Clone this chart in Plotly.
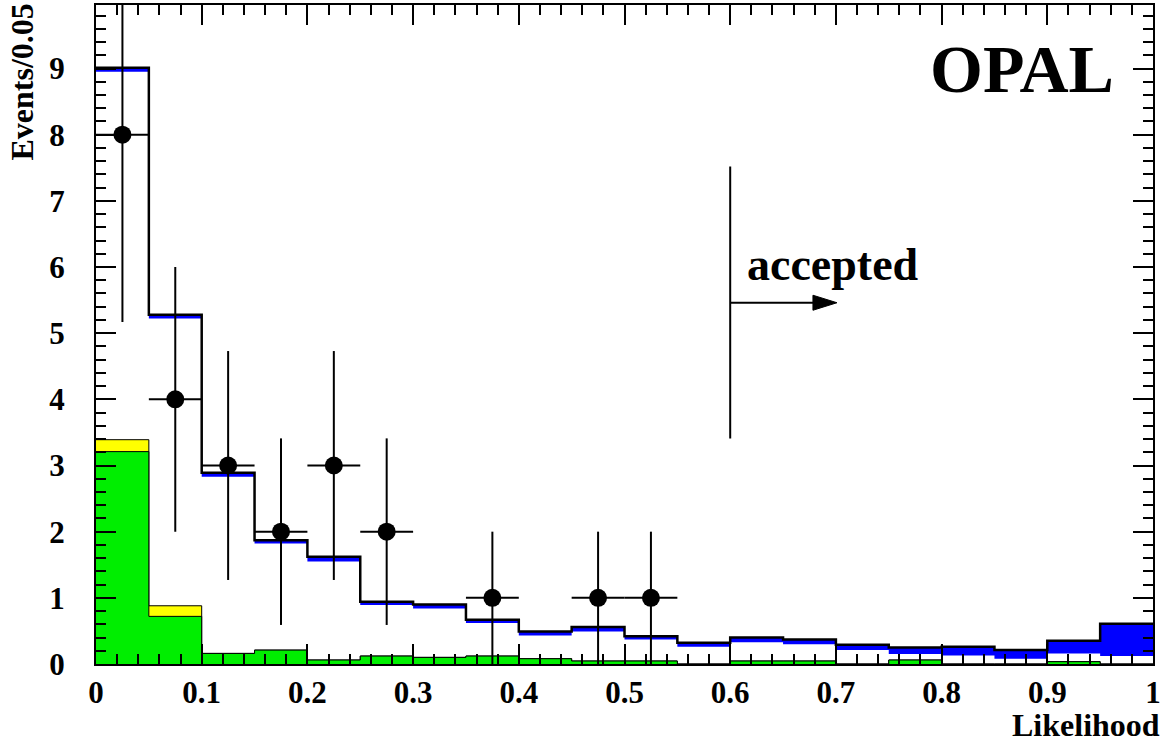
import plotly.graph_objects as go

# Likelihood binning (width 0.05)
bin_edges = [0.00, 0.05, 0.10, 0.15, 0.20, 0.25, 0.30, 0.35, 0.40, 0.45, 0.50,
             0.55, 0.60, 0.65, 0.70, 0.75, 0.80, 0.85, 0.90, 0.95, 1.00]

# Total expectation (background + signal), black outline / top of blue band
total_mc = [9.01, 5.28, 2.89, 1.87, 1.62, 0.94, 0.90, 0.67, 0.49, 0.56,
            0.42, 0.32, 0.40, 0.37, 0.29, 0.25, 0.26, 0.21, 0.35, 0.61]
# Total background (bottom of blue band)
background = [8.95, 5.22, 2.83, 1.82, 1.55, 0.89, 0.84, 0.62, 0.43, 0.49,
              0.37, 0.26, 0.33, 0.30, 0.21, 0.15, 0.13, 0.08, 0.16, 0.12]
# Stacked background components (yellow on top of green)
bkg_yellow_stack = [3.39, 0.88, 0.16, 0.21, 0.06, 0.12, 0.10, 0.12, 0.08, 0.045,
                    0.045, 0.0, 0.045, 0.045, 0.0, 0.06, 0.0, 0.0, 0.035, 0.0]
bkg_green = [3.21, 0.72, 0.16, 0.21, 0.06, 0.12, 0.10, 0.12, 0.08, 0.045,
             0.045, 0.0, 0.045, 0.045, 0.0, 0.06, 0.0, 0.0, 0.035, 0.0]

# Observed data
data_x = [0.025, 0.075, 0.125, 0.175, 0.225, 0.275, 0.375, 0.475, 0.525]
data_n = [8, 4, 3, 2, 3, 2, 1, 1, 1]
data_err = [2.83, 2.00, 1.73, 1.41, 1.73, 1.41, 1.00, 1.00, 1.00]
data_xerr = 0.025

# Cut position and annotation
cut_value = 0.60
cut_line_y = [3.41, 7.52]
arrow_y = 5.46
arrow_tip_x = 0.701

FONT = "Liberation Serif"


def steps(vals):
    return vals + [vals[-1]]


fig = go.Figure()

# blue: total expectation
fig.add_trace(go.Scatter(x=bin_edges, y=steps(total_mc), mode="lines",
                         line=dict(shape="hv", width=0, color="#0000ff"),
                         fill="tozeroy", fillcolor="#0000ff", hoverinfo="skip"))
# white: background covers below the signal band
fig.add_trace(go.Scatter(x=bin_edges, y=steps(background), mode="lines",
                         line=dict(shape="hv", width=0, color="white"),
                         fill="tozeroy", fillcolor="white", hoverinfo="skip"))
# yellow component
fig.add_trace(go.Scatter(x=bin_edges, y=steps(bkg_yellow_stack), mode="lines",
                         line=dict(shape="hv", width=1, color="black"),
                         fill="tozeroy", fillcolor="#ffff00", hoverinfo="skip"))
# green component
fig.add_trace(go.Scatter(x=bin_edges, y=steps(bkg_green), mode="lines",
                         line=dict(shape="hv", width=1, color="black"),
                         fill="tozeroy", fillcolor="#00ee00", hoverinfo="skip"))
# total outline
fig.add_trace(go.Scatter(x=bin_edges, y=steps(total_mc), mode="lines",
                         line=dict(shape="hv", width=2.5, color="black"),
                         hoverinfo="skip"))
# data points
fig.add_trace(go.Scatter(x=data_x, y=data_n, mode="markers",
                         marker=dict(symbol="circle", size=18, color="black"),
                         error_y=dict(type="data", array=data_err, visible=True,
                                      color="black", thickness=2, width=0),
                         error_x=dict(type="constant", value=data_xerr, visible=True,
                                      color="black", thickness=2, width=0)))

axis_common = dict(showline=True, linewidth=2, linecolor="black", mirror="ticks",
                   ticks="inside", ticklen=20, tickwidth=2, tickcolor="black",
                   showgrid=False, zeroline=False,
                   tickfont=dict(family=FONT, size=31, color="black", weight="bold"))

fig.update_xaxes(range=[0, 1], tickmode="linear", tick0=0, dtick=0.1,
                 minor=dict(tick0=0, dtick=0.02, ticks="inside", ticklen=10,
                            tickwidth=2, tickcolor="black"),
                 ticklabelstandoff=0, **axis_common)
fig.update_yaxes(range=[0, 9.96], tickmode="linear", tick0=0, dtick=1,
                 minor=dict(tick0=0, dtick=0.2, ticks="inside", ticklen=10,
                            tickwidth=2, tickcolor="black"),
                 ticklabelstandoff=23, **axis_common)

# cut line and arrow
fig.add_shape(type="line", xref="x", yref="y", x0=cut_value, x1=cut_value,
              y0=cut_line_y[0], y1=cut_line_y[1], line=dict(color="black", width=2))
fig.add_shape(type="line", xref="x", yref="y", x0=cut_value, x1=arrow_tip_x - 0.01,
              y0=arrow_y, y1=arrow_y, line=dict(color="black", width=2))
fig.add_shape(type="path", xref="x", yref="y", xsizemode="pixel", ysizemode="pixel",
              xanchor=arrow_tip_x, yanchor=arrow_y,
              path="M-24,-7.5 L0,0 L-24,7.5 Z", fillcolor="black",
              line=dict(color="black", width=1))

fig.add_annotation(x=0.697, y=6.04, xref="x", yref="y", text="<b>accepted</b>",
                   showarrow=False, xanchor="center", yanchor="middle",
                   font=dict(family=FONT, size=46, color="black"))
fig.add_annotation(x=0.876, y=9.0, xref="x", yref="y", text="<b>OPAL</b>",
                   showarrow=False, xanchor="center", yanchor="middle",
                   font=dict(family=FONT, size=68, color="black"))
fig.add_annotation(x=1.0085, y=-0.092, xref="paper", yref="paper",
                   text="<b>Likelihood</b>", showarrow=False,
                   xanchor="right", yanchor="middle",
                   font=dict(family=FONT, size=32, color="black"))
fig.add_annotation(x=-0.070, y=1.0045, xref="paper", yref="paper",
                   text="<b>Events/0.05</b>", showarrow=False, textangle=-90,
                   xanchor="center", yanchor="top",
                   font=dict(family=FONT, size=32, color="black"))

fig.update_layout(width=1173, height=742, showlegend=False,
                  margin=dict(l=96, r=20, t=3, b=78),
                  paper_bgcolor="white", plot_bgcolor="white")

fig.write_html("out.html")
